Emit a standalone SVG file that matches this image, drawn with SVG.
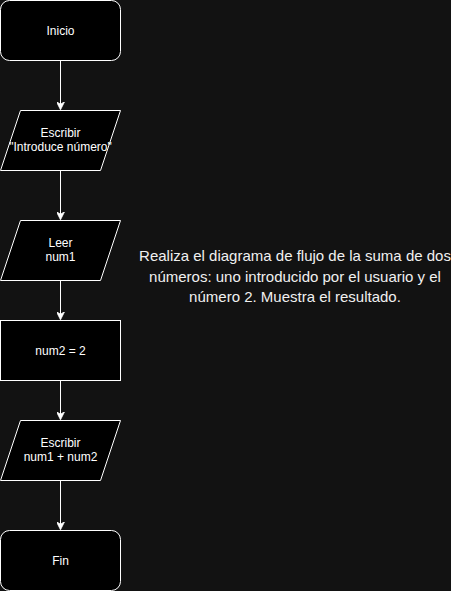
<svg xmlns="http://www.w3.org/2000/svg" width="451" height="591" viewBox="0 0 451 591">
<defs>
<style>
.n{fill:#000000;stroke:#ffffff;stroke-width:1}
.t{fill:#ffffff;font-family:Helvetica,"Liberation Sans",Arial,sans-serif;font-size:12px;text-anchor:middle}
.big{fill:#f0f0f0;font-family:Helvetica,"Liberation Sans",Arial,sans-serif;font-size:15px;text-anchor:middle}
.e{stroke:#ffffff;stroke-width:1;fill:none}
</style>
<marker id="ah" viewBox="0 0 10 10" refX="9" refY="5" markerWidth="8" markerHeight="8" markerUnits="userSpaceOnUse" orient="auto">
<path d="M0,0 L10,5 L0,10 L3,5 Z" fill="#ffffff" stroke="#ffffff" stroke-width="1"/>
</marker>
</defs>
<rect width="451" height="591" fill="#121212"/>
<g id="edges">
<path class="e" d="M60.5,60.5 V109" marker-end="url(#ah)"/>
<path class="e" d="M60.5,170.5 V219" marker-end="url(#ah)"/>
<path class="e" d="M60.5,280.5 V319" marker-end="url(#ah)"/>
<path class="e" d="M60.5,380.5 V419" marker-end="url(#ah)"/>
<path class="e" d="M60.5,480.5 V529" marker-end="url(#ah)"/>
</g>
<g id="inicio">
<rect class="n" x="0.5" y="0.5" width="120" height="60" rx="9" ry="9"/>
<text class="t" x="60.5" y="34.5">Inicio</text>
</g>
<g id="escribir1">
<path class="n" d="M20.5,110.5 H120.5 L100.5,170.5 H0.5 Z"/>
<text class="t" x="60.5" y="137">Escribir</text>
<text class="t" x="60.5" y="151">"Introduce número"</text>
</g>
<g id="leer">
<path class="n" d="M20.5,220.5 H120.5 L100.5,280.5 H0.5 Z"/>
<text class="t" x="60.5" y="247">Leer</text>
<text class="t" x="60.5" y="261">num1</text>
</g>
<g id="asignar">
<rect class="n" x="0.5" y="320.5" width="120" height="60"/>
<text class="t" x="60.5" y="354.5">num2 = 2</text>
</g>
<g id="escribir2">
<path class="n" d="M20.5,420.5 H120.5 L100.5,480.5 H0.5 Z"/>
<text class="t" x="60.5" y="447">Escribir</text>
<text class="t" x="60.5" y="461">num1 + num2</text>
</g>
<g id="fin">
<rect class="n" x="0.5" y="530.5" width="120" height="60" rx="9" ry="9"/>
<text class="t" x="60.5" y="564.5">Fin</text>
</g>
<g id="enunciado">
<text class="big" x="295" y="261">Realiza el diagrama de flujo de la suma de dos</text>
<text class="big" x="295" y="281.5">números: uno introducido por el usuario y el</text>
<text class="big" x="295" y="302">número 2. Muestra el resultado.</text>
</g>
</svg>
